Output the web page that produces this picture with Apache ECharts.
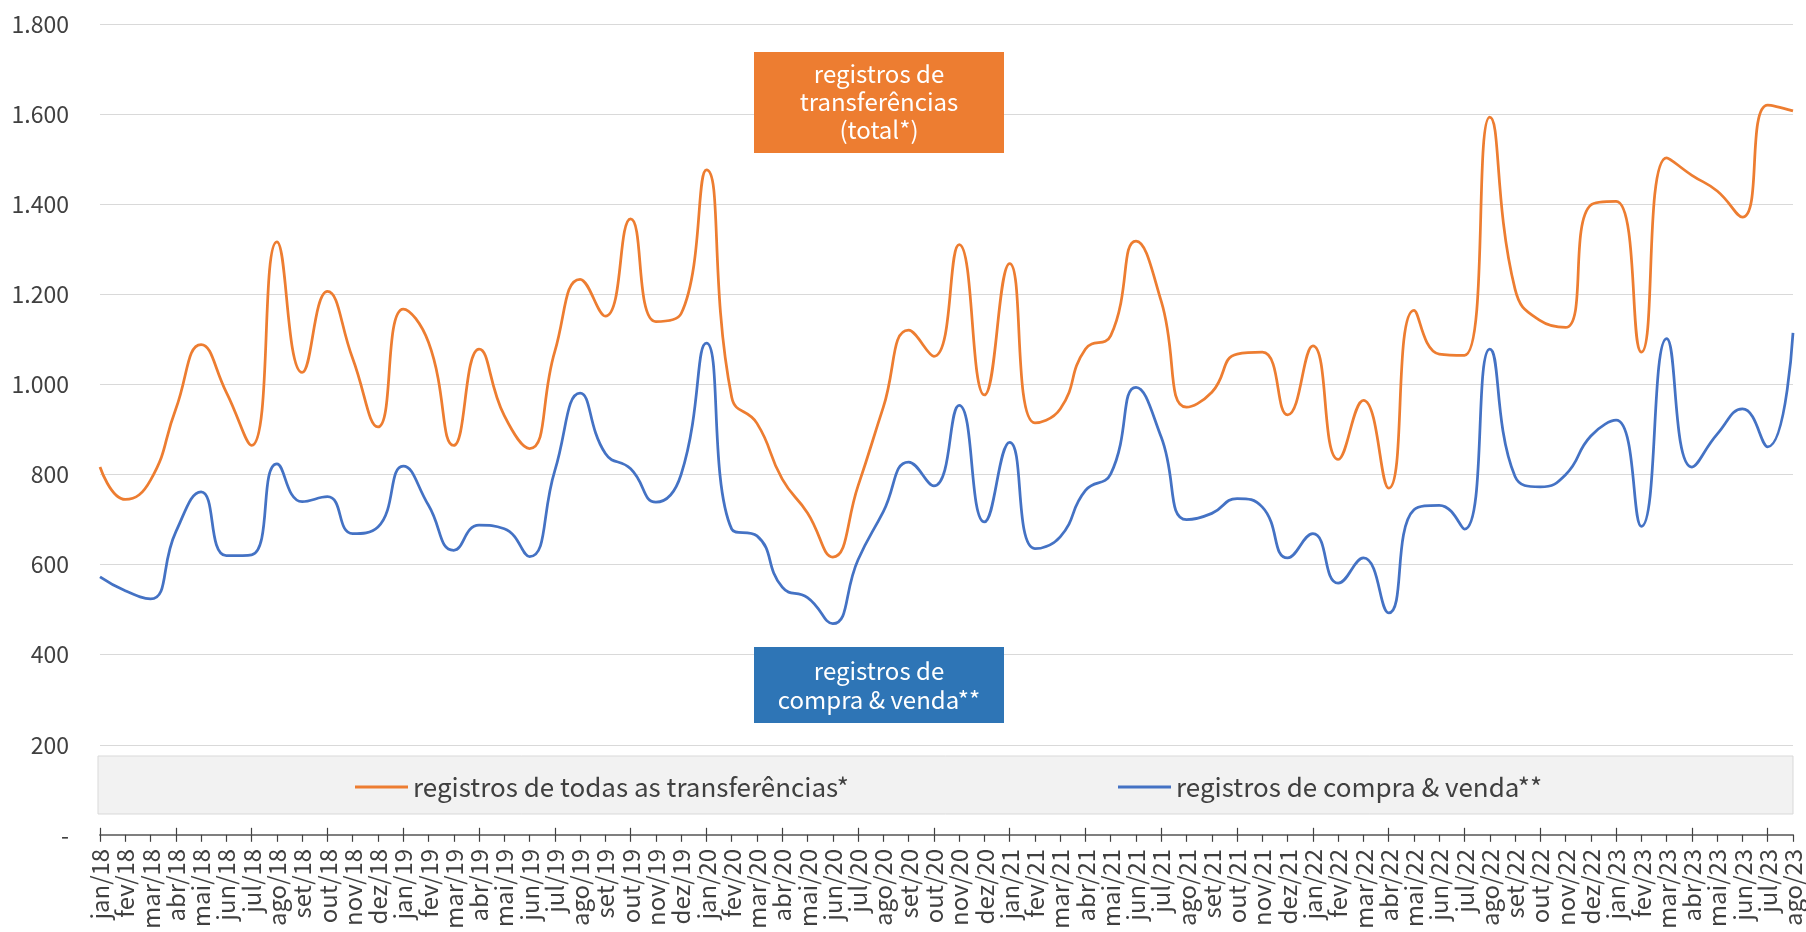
<!DOCTYPE html>
<html lang="pt">
<head>
    <meta charset="UTF-8">
    <title>Registros de transferências</title>
    <script src="https://cdn.jsdelivr.net/npm/echarts@6/dist/echarts.min.js"></script>
    <style>
        html, body { margin: 0; padding: 0; background: #fff; }
        #chart { width: 1806px; height: 932px; }
    </style>
</head>
<body>
    <div id="chart"></div>
    <script>
        // month labels jan/18 .. ago/23
        const months = ['jan/18','fev/18','mar/18','abr/18','mai/18','jun/18','jul/18','ago/18','set/18','out/18','nov/18','dez/18',
            'jan/19','fev/19','mar/19','abr/19','mai/19','jun/19','jul/19','ago/19','set/19','out/19','nov/19','dez/19',
            'jan/20','fev/20','mar/20','abr/20','mai/20','jun/20','jul/20','ago/20','set/20','out/20','nov/20','dez/20',
            'jan/21','fev/21','mar/21','abr/21','mai/21','jun/21','jul/21','ago/21','set/21','out/21','nov/21','dez/21',
            'jan/22','fev/22','mar/22','abr/22','mai/22','jun/22','jul/22','ago/22','set/22','out/22','nov/22','dez/22',
            'jan/23','fev/23','mar/23','abr/23','mai/23','jun/23','jul/23','ago/23'];

        // registros de todas as transferências*
        const totalRegs = [817, 745, 788, 946, 1089, 983, 865, 1317, 1027, 1207, 1058, 906,
            1168, 1094, 865, 1079, 931, 858, 1074, 1234, 1152, 1368, 1140, 1158,
            1477, 972, 914, 790, 715, 617, 775, 950, 1121, 1063, 1311, 977,
            1269, 915, 946, 1079, 1109, 1319, 1185, 950, 983, 1068, 1072, 933,
            1086, 834, 965, 770, 1165, 1068, 1065, 1594, 1212, 1142, 1127, 1399,
            1407, 1072, 1504, 1465, 1430, 1372, 1621, 1608];

        // registros de compra & venda**
        const compraVenda = [573, 542, 524, 673, 762, 620, 622, 824, 740, 751, 669, 684,
            819, 732, 632, 688, 680, 618, 809, 981, 847, 813, 739, 801,
            1092, 679, 664, 550, 527, 469, 611, 718, 828, 775, 954, 695,
            872, 636, 662, 765, 802, 994, 883, 700, 714, 747, 728, 615,
            669, 559, 615, 493, 722, 732, 679, 1079, 796, 773, 800, 886,
            921, 685, 1102, 817, 890, 946, 862, 1115];

        const nameTotal = 'registros de todas as transferências*';
        const nameCompra = 'registros de compra & venda**';

        const FONT = '"Noto Sans CJK JP", "Noto Sans", sans-serif';
        const ORANGE = '#ED7D31';
        const BLUE = '#4472C4';

        function fmtY(v) {
            if (v === 0) return '-';
            if (v >= 1000) {
                const r = v % 1000;
                return Math.floor(v / 1000) + '.' + String(r).padStart(3, '0');
            }
            return String(v);
        }

        const chart = echarts.init(document.getElementById('chart'));

        const option = {
            animation: false,
            textStyle: { fontFamily: FONT },
            grid: { left: 100, right: 13, top: 24.5, bottom: 95 },
            xAxis: [
                {
                    type: 'category',
                    data: months,
                    boundaryGap: false,
                    axisLine: { lineStyle: { color: '#7f7f7f', width: 2 } },
                    axisTick: { show: true, length: 7, lineStyle: { color: '#404040', width: 1.2 } },
                    axisLabel: {
                        rotate: 90, interval: 0, margin: 14,
                        fontSize: 24, color: '#404040', fontFamily: FONT
                    },
                    splitLine: { show: false }
                },
                {
                    // inner half of the crossing ticks
                    type: 'category',
                    data: months,
                    boundaryGap: false,
                    position: 'bottom',
                    axisLine: { show: false },
                    axisTick: { show: true, inside: true, length: 7, lineStyle: { color: '#404040', width: 1.2 } },
                    axisLabel: { show: false },
                    splitLine: { show: false }
                }
            ],
            yAxis: {
                type: 'value',
                min: 0, max: 1800, interval: 200,
                axisLine: { show: false },
                axisTick: { show: false },
                axisLabel: {
                    formatter: fmtY, margin: 31,
                    fontSize: 23, color: '#404040', fontFamily: FONT
                },
                splitLine: { lineStyle: { color: '#d9d9d9', width: 1.2 } }
            },
            legend: [
                {
                    data: [nameTotal], left: 350, top: 769,
                    icon: 'rect', itemWidth: 53, itemHeight: 3, itemGap: 6,
                    textStyle: { fontSize: 26, color: '#404040', fontFamily: FONT }
                },
                {
                    data: [nameCompra], left: 1113, top: 769,
                    icon: 'rect', itemWidth: 53, itemHeight: 3, itemGap: 6,
                    textStyle: { fontSize: 26, color: '#404040', fontFamily: FONT }
                }
            ],
            graphic: [
                {
                    type: 'rect', z: -1,
                    shape: { x: 98, y: 756, width: 1695, height: 58 },
                    style: { fill: '#f2f2f2', stroke: '#d9d9d9', lineWidth: 1 }
                },
                {
                    type: 'rect', z: 10,
                    shape: { x: 754, y: 52, width: 250, height: 101 },
                    style: { fill: '#ED7D31' }
                },
                {
                    type: 'text', z: 11, x: 879, y: 102,
                    style: {
                        text: 'registros de\ntransferências\n(total*)',
                        fill: '#fff', font: '24px ' + FONT, lineHeight: 28,
                        align: 'center', verticalAlign: 'middle'
                    }
                },
                {
                    type: 'rect', z: 10,
                    shape: { x: 754, y: 647, width: 250, height: 76 },
                    style: { fill: '#2E75B6' }
                },
                {
                    type: 'text', z: 11, x: 879, y: 685,
                    style: {
                        text: 'registros de\ncompra & venda**',
                        fill: '#fff', font: '24px ' + FONT, lineHeight: 29,
                        align: 'center', verticalAlign: 'middle'
                    }
                }
            ],
            series: [
                {
                    name: nameTotal, type: 'line', data: totalRegs,
                    smooth: 0.5, symbol: 'none',
                    itemStyle: { color: ORANGE },
                    lineStyle: { color: ORANGE, width: 2.75 }
                },
                {
                    name: nameCompra, type: 'line', data: compraVenda,
                    smooth: 0.5, symbol: 'none',
                    itemStyle: { color: BLUE },
                    lineStyle: { color: BLUE, width: 2.75 }
                }
            ]
        };

        chart.setOption(option);
    </script>
</body>
</html>
